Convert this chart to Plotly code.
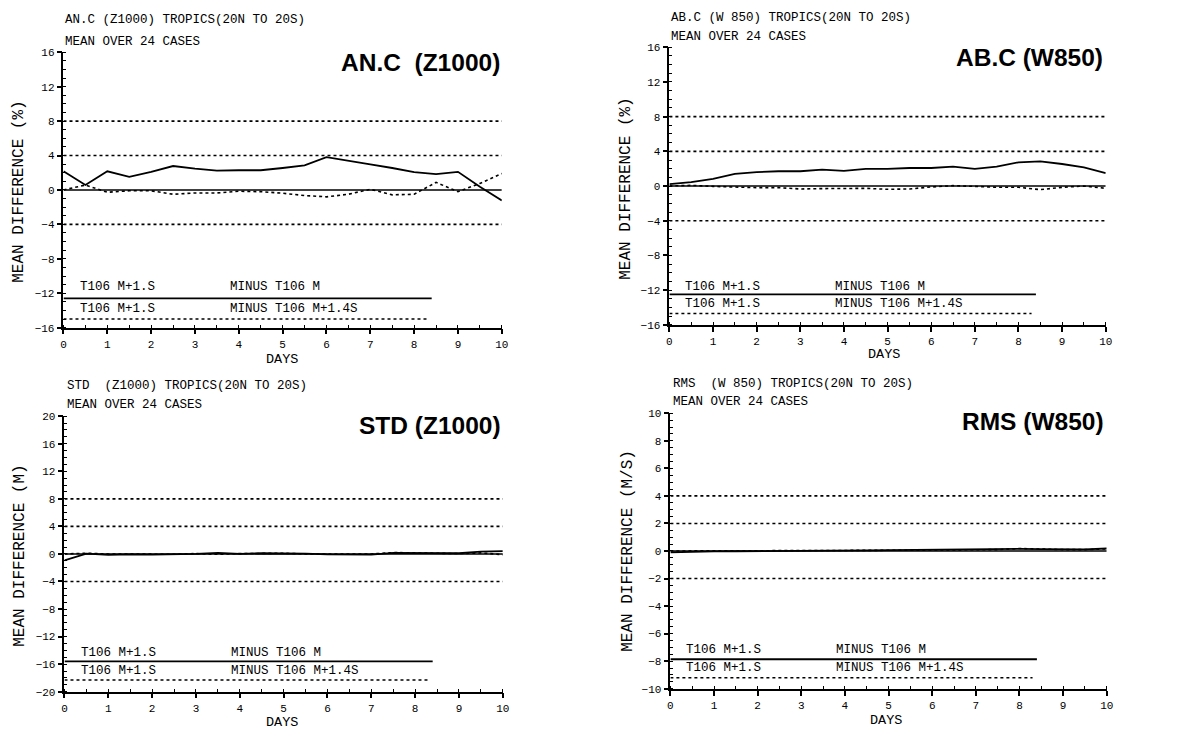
import plotly.graph_objects as go

# Forecast day axis (half-day steps)
days = [0, 0.5, 1, 1.5, 2, 2.5, 3, 3.5, 4, 4.5, 5, 5.5, 6, 6.5, 7, 7.5, 8, 8.5, 9, 9.5, 10]
day_ticks = [0, 1, 2, 3, 4, 5, 6, 7, 8, 9, 10]

# AN.C (Z1000): T106 M+1.S minus T106 M (solid) and minus T106 M+1.4S (dotted)
anc_solid = [2.17, 0.57, 2.17, 1.52, 2.1, 2.78, 2.48, 2.25, 2.29, 2.29, 2.55, 2.86, 3.81, 3.43,
             2.97, 2.55, 2.06, 1.83, 2.1, 0.38, -1.22]
anc_dotted = [0.0, 0.57, -0.27, -0.1, -0.1, -0.5, -0.35, -0.35, -0.15, -0.2, -0.38, -0.65, -0.8,
              -0.5, 0.07, -0.57, -0.5, 0.88, -0.2, 0.76, 1.9]

# AB.C (W850)
abc_solid = [0.23, 0.45, 0.83, 1.4, 1.6, 1.7, 1.7, 1.9, 1.75, 1.97, 1.97, 2.08, 2.08, 2.23,
             1.97, 2.23, 2.73, 2.84, 2.54, 2.16, 1.5]
abc_dotted = [0.0, 0.08, -0.04, -0.15, -0.19, -0.19, -0.34, -0.3, -0.3, -0.27, -0.38, -0.34,
              -0.11, 0.04, -0.04, -0.15, -0.15, -0.42, -0.15, 0.0, -0.27]

# STD (Z1000)
std_solid = [-0.95, 0.05, -0.15, -0.05, -0.1, -0.1, 0.0, 0.15, 0.0, 0.1, 0.1, 0.05, -0.05, -0.1,
             -0.1, 0.15, 0.1, 0.05, 0.1, 0.35, 0.4]
std_dotted = [0.0, 0.1, 0.0, -0.05, -0.05, -0.05, 0.05, -0.05, 0.05, 0.1, 0.1, 0.0, 0.0, -0.05,
              0.0, 0.2, 0.15, 0.05, 0.05, 0.15, -0.1]

# RMS (W850)
rms_solid = [-0.1, -0.05, -0.03, -0.02, 0.0, 0.0, 0.02, 0.03, 0.05, 0.05, 0.06, 0.08, 0.08, 0.1,
             0.1, 0.12, 0.15, 0.13, 0.12, 0.12, 0.18]
rms_dotted = [0.0, 0.0, 0.0, 0.0, 0.02, 0.02, 0.02, 0.03, 0.05, 0.05, 0.05, 0.06, 0.06, 0.08,
              0.08, 0.1, 0.18, 0.12, 0.1, 0.1, 0.15]

# Reference levels
pct_levels = [8, 4, -4]
std_levels = [8, 4, -4]
rms_levels = [4, 2, -2]

W, H = 1200, 739
MONO = "Liberation Mono, DejaVu Sans Mono, monospace"
BOLD = "Liberation Sans, Arial, sans-serif"

panels = [
    dict(solid=anc_solid, dotted=anc_dotted, levels=pct_levels, yr=(-16, 16), dt=4, minor=1,
         box=(61, 503, 48, 328), head1="AN.C (Z1000) TROPICS(20N TO 20S)",
         head_xy=(60, 15, 38), big="AN.C  (Z1000)", big_xy=(503, 58),
         ytitle="MEAN DIFFERENCE (%)", ytitle_xy=(16, 190), days_xy=(281, 360),
         leg=(-11.3, -12.6, -13.8, -15.0)),
    dict(solid=abc_solid, dotted=abc_dotted, levels=pct_levels, yr=(-16, 16), dt=4, minor=1,
         box=(672, 1112, 43, 325), head1="AB.C (W 850) TROPICS(20N TO 20S)",
         head_xy=(672, 13, 33), big="AB.C (W850)", big_xy=(1111, 53),
         ytitle="MEAN DIFFERENCE (%)", ytitle_xy=(628, 187), days_xy=(888, 355),
         leg=(-11.6, -12.5, -13.6, -14.7)),
    dict(solid=std_solid, dotted=std_dotted, levels=std_levels, yr=(-20, 20), dt=4, minor=1,
         box=(62, 504, 418, 698), head1="STD  (Z1000) TROPICS(20N TO 20S)",
         head_xy=(63, 387, 407), big="STD (Z1000)", big_xy=(504, 427),
         ytitle="MEAN DIFFERENCE (M)", ytitle_xy=(17, 560), days_xy=(281, 729),
         leg=(-14.4, -15.6, -17.0, -18.3)),
    dict(solid=rms_solid, dotted=rms_dotted, levels=rms_levels, yr=(-10, 10), dt=2, minor=0.5,
         box=(673, 1113, 415, 695), head1="RMS  (W 850) TROPICS(20N TO 20S)",
         head_xy=(674, 385, 404), big="RMS (W850)", big_xy=(1112, 423),
         ytitle="MEAN DIFFERENCE (M/S)", ytitle_xy=(630, 555), days_xy=(890, 727),
         leg=(-7.2, -7.86, -8.5, -9.2)),
]


def px(x):
    return x / W


def py(y):
    return 1 - y / H


fig = go.Figure()
annotations = []
shapes = []

for i, p in enumerate(panels, start=1):
    sfx = "" if i == 1 else str(i)
    xa, ya = "x" + sfx, "y" + sfx
    x0, x1, y0, y1 = p["box"]

    # zero line and reference levels
    fig.add_trace(go.Scatter(x=[days[0], days[-1]], y=[0, 0], mode="lines",
                             line=dict(color="black", width=1.6), xaxis=xa, yaxis=ya,
                             showlegend=False, hoverinfo="skip"))
    for lv in p["levels"]:
        fig.add_trace(go.Scatter(x=[days[0], days[-1]], y=[lv, lv], mode="lines",
                                 line=dict(color="black", width=1.6, dash="dot"),
                                 xaxis=xa, yaxis=ya, showlegend=False, hoverinfo="skip"))

    # the two difference curves
    fig.add_trace(go.Scatter(x=days, y=p["dotted"], mode="lines",
                             line=dict(color="black", width=1.6, dash="dot"),
                             xaxis=xa, yaxis=ya, name="T106 M+1.S MINUS T106 M+1.4S",
                             showlegend=False))
    fig.add_trace(go.Scatter(x=days, y=p["solid"], mode="lines",
                             line=dict(color="black", width=1.8),
                             xaxis=xa, yaxis=ya, name="T106 M+1.S MINUS T106 M",
                             showlegend=False))

    axis_common = dict(showgrid=False, zeroline=False, showline=True, linecolor="black",
                       linewidth=1.6, ticks="outside", ticklen=5, tickwidth=1.6,
                       tickcolor="black", tickfont=dict(family=MONO, size=11, color="black"))
    fig.update_layout(**{
        "xaxis" + sfx: dict(domain=[px(x0), px(x1)], anchor=ya, range=[0, 10],
                            tickvals=day_ticks,
                            minor=dict(dtick=0.5, ticks="inside", ticklen=3,
                                       tickcolor="black", tickwidth=1.3),
                            **axis_common),
        "yaxis" + sfx: dict(domain=[py(y1), py(y0)], anchor=xa, range=list(p["yr"]),
                            dtick=p["dt"], tick0=0,
                            minor=dict(dtick=p["minor"], ticks="inside", ticklen=3,
                                       tickcolor="black", tickwidth=1.3),
                            **axis_common),
    })

    # legend block inside the plot
    t1, ls, t2, ld = p["leg"]
    for txt, xx, yy in [("T106 M+1.S", 0.32, t1), ("MINUS T106 M", 3.75, t1),
                        ("T106 M+1.S", 0.32, t2), ("MINUS T106 M+1.4S", 3.75, t2)]:
        annotations.append(dict(x=xx, y=yy, xref=xa, yref=ya, text=txt, showarrow=False,
                                xanchor="left", yanchor="middle",
                                font=dict(family=MONO, size=12.5, color="black")))
    shapes.append(dict(type="line", xref=xa, yref=ya, x0=0, x1=8.4, y0=ls, y1=ls,
                       line=dict(color="black", width=1.8)))
    shapes.append(dict(type="line", xref=xa, yref=ya, x0=0, x1=8.3, y0=ld, y1=ld,
                       line=dict(color="black", width=1.6, dash="dot")))

    # headers, big title, axis titles
    hx, hy1, hy2 = p["head_xy"]
    for txt, yy in [(p["head1"], hy1), ("MEAN OVER 24 CASES", hy2)]:
        annotations.append(dict(x=px(hx), y=py(yy), xref="paper", yref="paper", text=txt,
                                showarrow=False, xanchor="left", yanchor="middle",
                                font=dict(family=MONO, size=12.5, color="black")))
    bx, by = p["big_xy"]
    annotations.append(dict(x=px(bx), y=py(by), xref="paper", yref="paper",
                            text="<b>" + p["big"] + "</b>", showarrow=False,
                            xanchor="right", yanchor="middle",
                            font=dict(family=BOLD, size=24.5, color="black")))
    tx, ty = p["ytitle_xy"]
    annotations.append(dict(x=px(tx), y=py(ty), xref="paper", yref="paper", text=p["ytitle"],
                            showarrow=False, textangle=-90, xanchor="center", yanchor="middle",
                            font=dict(family=MONO, size=16, color="black")))
    dx, dy = p["days_xy"]
    annotations.append(dict(x=px(dx), y=py(dy), xref="paper", yref="paper", text="DAYS",
                            showarrow=False, xanchor="center", yanchor="middle",
                            font=dict(family=MONO, size=13.5, color="black")))

fig.update_layout(width=W, height=H, margin=dict(l=0, r=0, t=0, b=0),
                  paper_bgcolor="white", plot_bgcolor="white",
                  annotations=annotations, shapes=shapes, showlegend=False)

fig.write_html("out.html")
